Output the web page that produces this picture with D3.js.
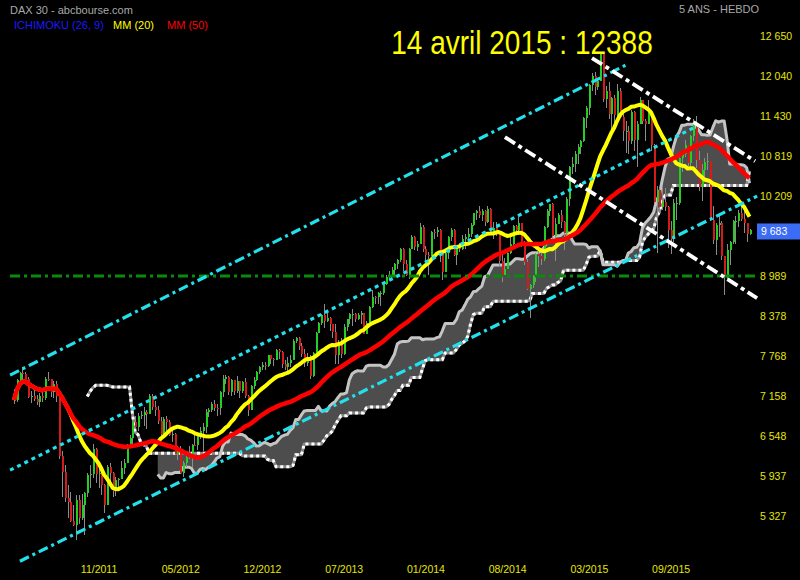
<!DOCTYPE html>
<html><head><meta charset="utf-8">
<script src="https://cdn.jsdelivr.net/npm/d3@7"></script>
<style>html,body{margin:0;padding:0;background:#000;} svg{display:block;}</style>
</head><body>
<svg id="c" width="800" height="580"></svg>
<script>
// ---------- DATA (weekly DAX 30, Apr 2011 - Apr 2016) ----------
const firstOpen = 7217;
const closes = [
7095,7403,7514,7492,7418,7147,7164,7109,7069,7164,
7122,7419,7415,7220,7344,7159,6236,5997,5602,5538,
5246,5189,5574,5295,5502,5675,5954,5971,6346,5966,
5986,5800,5493,6080,5986,5702,5878,5898,6057,6143,
6404,6511,6766,6692,6848,6864,6921,6880,7157,6996,
6947,6775,6583,6801,6762,6561,6579,6271,6339,5978,
6130,6229,6263,6416,6410,6557,6630,6690,6919,6944,
7041,6971,6970,7214,7412,7451,7216,7398,7233,7380,
7232,7364,7163,6950,7309,7405,7518,7597,7636,7612,
7776,7715,7702,7857,7833,7652,7593,7661,7708,8004,
8043,7913,7795,7659,7744,7459,7814,8122,8279,8398,
8305,8349,8255,8127,7789,7959,7806,8212,8331,8403,
8410,8338,8391,8417,8103,8276,8510,8675,8661,8725,
8725,8868,8980,9010,9078,9168,9225,9405,9172,9006,
9400,9589,9435,9473,9742,9393,9306,9301,9663,9657,
9692,9351,9056,9342,9588,9695,9315,9409,9402,9556,
9581,9630,9768,9943,9987,9912,9987,9815,10009,9666,
9720,9644,9210,9009,9092,9339,9470,9747,9691,9799,
9490,9195,8788,8850,8988,9326,9291,9252,9732,9980,
10087,9594,9787,9922,9805,9648,10167,10649,10694,10846,
10963,11050,11401,11550,11901,12040,11868,11967,12375,11689,
11811,11454,11709,11447,11815,11413,11197,11197,11041,11492,
11058,11315,11673,11347,11308,11490,10985,10125,10298,10038,
10123,10038,9688,9554,10096,10104,10795,10850,10988,10708,
11119,11293,10752,10340,10608,10727,10743,9849,9545,9764,
9798,9286,8967,9388,9513,9824,9831,9950,9851,9794,
9622,9683];
const highs = [
7260,7420,7530,7600,7530,7440,7240,7260,7180,7200,
7250,7440,7520,7400,7380,7380,7190,6320,6100,5800,
5700,5500,5640,5650,5670,5700,5980,6100,6430,6360,
6100,6000,5820,6110,6130,6000,5920,5910,6160,6200,
6430,6560,6780,6850,6900,6930,6990,6940,7190,7190,
7080,7010,6830,6840,6850,6790,6690,6600,6400,6400,
6170,6290,6400,6430,6580,6570,6690,6750,6960,6980,
7060,7100,7030,7230,7480,7480,7470,7420,7400,7460,
7390,7380,7430,7180,7330,7440,7540,7620,7680,7670,
7790,7790,7740,7880,7880,7840,7710,7760,7790,8030,
8060,8060,7960,7870,7820,7780,7830,8130,8290,8410,
8560,8430,8360,8260,8260,8010,8040,8260,8340,8430,
8480,8430,8430,8450,8430,8300,8530,8770,8680,8740,
8760,8880,9010,9060,9130,9190,9250,9410,9420,9230,
9410,9620,9600,9530,9790,9760,9440,9350,9680,9700,
9730,9710,9370,9350,9600,9720,9710,9420,9490,9620,
9630,9720,9790,9950,10000,10050,10010,9990,10050,10030,
9810,9810,9650,9360,9270,9380,9600,9770,9760,9890,
9800,9520,9250,8870,9010,9340,9380,9370,9750,10010,
10090,10100,9880,9950,9990,9820,10200,10660,10810,10900,
11000,11060,11420,11580,11920,12080,12100,12000,12390,12390,
11880,11950,11720,11750,11920,11850,11500,11350,11280,11520,
11500,11350,11720,11680,11380,11670,11510,11000,10360,10340,
10360,10330,10050,9830,10160,10200,10850,10900,11060,10990,
11140,11390,11430,10900,10690,10790,10860,10750,10050,9800,
9930,9830,9300,9470,9520,9840,9900,10000,10060,10000,
9800,9700];
const lows = [
7040,7060,7380,7380,7340,7120,7050,7080,7020,6990,
7060,7100,7380,7150,7130,7060,6200,5610,5540,5300,
5230,5180,4965,5210,5260,5040,5620,5760,5900,5830,
5760,5650,5370,5490,5850,5620,5630,5760,5900,5970,
6130,6400,6400,6650,6620,6800,6700,6660,6880,6950,
6860,6730,6550,6530,6600,6540,6450,6260,6180,5970,
5920,6080,6200,6080,6390,6330,6500,6320,6600,6840,
6920,6930,6860,6870,7140,7340,7180,7160,7170,7210,
7120,7200,7120,6860,6940,7260,7390,7490,7560,7560,
7600,7640,7620,7700,7720,7590,7560,7530,7600,7700,
7960,7860,7750,7600,7620,7420,7440,7810,8120,8240,
8200,8280,8150,8050,7650,7650,7730,7780,8150,8250,
8220,8280,8320,8250,8100,8100,8270,8500,8560,8560,
8530,8700,8850,8940,8980,9010,9090,9200,9070,8990,
8950,9400,9380,9370,9470,9360,9150,9000,9300,9550,
9580,9200,8930,9050,9250,9520,9300,9160,9350,9380,
9400,9550,9580,9750,9840,9870,9830,9750,9790,9640,
9550,9600,9140,8900,9000,9090,9320,9430,9610,9610,
9430,9150,8770,8350,8800,8900,9130,9160,9220,9720,
9900,9540,9220,9780,9720,9380,9600,10060,10540,10580,
10700,10850,11040,11250,11450,11810,11750,11830,11960,11650,
11550,11380,11220,11320,11420,11400,11050,10860,10850,11000,
10890,10650,11300,11300,11050,11300,10900,10100,9340,9950,
9990,9980,9420,9330,9510,9850,10070,10580,10800,10660,
10620,11050,10630,10290,10140,10470,10600,9820,9480,9310,
9580,9230,8700,8940,9150,9480,9480,9730,9830,9650,
9500,9610];
const xTickBars = [30, 59, 88, 117, 146, 175, 204, 233];
const xTickLabels = ["11/2011","05/2012","12/2012","07/2013","01/2014","08/2014","03/2015","09/2015"];
const yTicks = [12650,12040,11430,10819,10209,8989,8378,7768,7158,6548,5937,5327];
const lastValue = 9683;
const titleText = "14 avril 2015 : 12388";
// trend lines: [barStart, valueStart, barEnd, valueEnd]
const cyanUpper  = [-1.4, 7476, 217.9, 12223];
const cyanMiddle = [-1.4, 6026, 242.4, 11276];
const cyanLower  = [2.1, 4637, 263.7, 10208];
const whiteUpper = [205.1, 12314, 263.0, 10742];
const whiteLower = [174.2, 11108, 263.7, 8651];
const supportLevel = 8989;
const maPeriods = [20, 50];
const ichimoku = {tenkan: 9, kijun: 26, spanB: 52, shift: 26};

// ---------- DERIVED ----------
const n = closes.length;
const opens = closes.map((c, i) => i === 0 ? firstOpen : closes[i - 1]);
const bars = closes.map((c, i) => ({
  i, o: opens[i], c,
  h: Math.max(highs[i], opens[i], c),
  l: Math.min(lows[i], opens[i], c)
}));
function ma(p) { // expanding window at the start
  return closes.map((c, i) => {
    const s = Math.max(0, i - p + 1);
    return {i, v: d3.mean(closes.slice(s, i + 1))};
  });
}
function mid(i, p, full) {
  const s = i - p + 1;
  if (full && s < 0) return null;
  const a = Math.max(0, s);
  return (d3.max(bars.slice(a, i + 1), d => d.h) + d3.min(bars.slice(a, i + 1), d => d.l)) / 2;
}
const spanA = [], spanB = [];
for (let i = 0; i < n; i++) {
  const t = i + ichimoku.shift;
  if (t >= n) break;
  const tk = mid(i, ichimoku.tenkan, true), kj = mid(i, ichimoku.kijun, true);
  if (tk !== null && kj !== null) spanA.push({i: t, v: (tk + kj) / 2});
  spanB.push({i: t, v: mid(i, ichimoku.spanB, false)});
}

// ---------- SCALES ----------
const svg = d3.select("#c");
svg.append("rect").attr("width", 800).attr("height", 580).attr("fill", "#000");
const x = d3.scaleLinear().domain([0, n - 1]).range([14, 749.5]);
const y = d3.scaleLinear().domain([5327, 12650]).range([516, 36]);

svg.append("defs").append("clipPath").attr("id", "plot")
  .append("rect").attr("x", 8).attr("y", 16).attr("width", 750).attr("height", 550);
const g = svg.append("g").attr("clip-path", "url(#plot)");

// ---------- ICHIMOKU CLOUD ----------
const bMap = new Map(spanB.map(d => [d.i, d.v]));
const cloud = spanA.filter(d => bMap.has(d.i)).map(d => ({i: d.i, a: d.v, b: bMap.get(d.i)}));
g.append("path").datum(cloud)
  .attr("d", d3.area().x(d => x(d.i)).y0(d => y(d.b)).y1(d => y(d.a)))
  .attr("fill", "#4d4d4d");
const line = d3.line().x(d => x(d.i)).y(d => y(d.v));
g.append("path").datum(spanB).attr("d", line).attr("fill", "none")
  .attr("stroke", "#8a8a8a").attr("stroke-width", 3).attr("stroke-linejoin", "round");
g.append("path").datum(spanB).attr("d", line).attr("fill", "none")
  .attr("stroke", "#ffffff").attr("stroke-width", 3).attr("stroke-dasharray", "3,3");
g.append("path").datum(spanA).attr("d", line).attr("fill", "none")
  .attr("stroke", "#c4c4c4").attr("stroke-width", 3).attr("stroke-linejoin", "round");

// ---------- CANDLES ----------
const cg = g.append("g").attr("shape-rendering", "crispEdges");
cg.selectAll("line.w").data(bars).join("line")
  .attr("x1", d => Math.round(x(d.i)) + 0.5).attr("x2", d => Math.round(x(d.i)) + 0.5)
  .attr("y1", d => y(d.h)).attr("y2", d => y(d.l))
  .attr("stroke", "#8c8c8c").attr("stroke-width", 1);
cg.selectAll("rect.b").data(bars).join("rect")
  .attr("x", d => Math.round(x(d.i)))
  .attr("width", 2)
  .attr("y", d => y(Math.max(d.o, d.c)))
  .attr("height", d => Math.max(1, Math.abs(y(d.o) - y(d.c))))
  .attr("fill", d => d.c >= d.o ? "#22d022" : "#d41a1a");

// ---------- MOVING AVERAGES ----------
g.append("path").datum(ma(maPeriods[0])).attr("d", line).attr("fill", "none")
  .attr("stroke", "#ffff00").attr("stroke-width", 4).attr("stroke-linejoin", "round");
g.append("path").datum(ma(maPeriods[1])).attr("d", line).attr("fill", "none")
  .attr("stroke", "#ff0000").attr("stroke-width", 4.5).attr("stroke-linejoin", "round");

// ---------- TREND LINES ----------
function tl(p, color, dash, w) {
  g.append("line").attr("x1", x(p[0])).attr("y1", y(p[1])).attr("x2", x(p[2])).attr("y2", y(p[3]))
    .attr("stroke", color).attr("stroke-width", w).attr("stroke-dasharray", dash);
}
g.append("line").attr("x1", 10).attr("x2", 757).attr("y1", y(supportLevel)).attr("y2", y(supportLevel))
  .attr("stroke", "#0a8a0a").attr("stroke-width", 3).attr("stroke-dasharray", "10,4,3,4");
tl(cyanUpper, "#22e0ec", "10,4,3,4", 3.2);
tl(cyanMiddle, "#22e0ec", "4,4", 3.2);
tl(cyanLower, "#22e0ec", "10,4,3,4", 3.2);
tl(whiteUpper, "#ffffff", "12,4,4,4", 3.8);
tl(whiteLower, "#ffffff", "12,4,4,4", 3.8);

// ---------- AXES ----------
const fmt = v => d3.format(",")(v).replace(/,/g, " ");
const ya = svg.append("g").attr("transform", "translate(758,0)")
  .call(d3.axisRight(y).tickValues(yTicks).tickFormat(fmt).tickSize(0).tickPadding(2));
ya.select(".domain").remove();
ya.selectAll("text").attr("fill", "#e6e600").style("font", "10.5px 'Liberation Sans', Arial, sans-serif");

const xa = svg.append("g").attr("transform", "translate(0,562)")
  .call(d3.axisBottom(x).tickValues(xTickBars).tickFormat((d, i) => xTickLabels[i]).tickSize(0).tickPadding(4));
xa.select(".domain").remove();
xa.selectAll("text").attr("fill", "#e6e600").style("font", "10.5px 'Liberation Sans', Arial, sans-serif");

// last value box
svg.append("rect").attr("x", 757).attr("y", y(lastValue) - 7).attr("width", 43).attr("height", 16).attr("fill", "#3b6cf5");
svg.append("text").attr("x", 761).attr("y", y(lastValue) + 5).text(fmt(lastValue))
  .attr("fill", "#ffffff").style("font", "10.5px 'Liberation Sans', Arial, sans-serif");

// ---------- HEADER ----------
const hf = "11px 'Liberation Sans', Arial, sans-serif";
svg.append("text").attr("x", 10).attr("y", 14).text("DAX 30 - abcbourse.com").attr("fill", "#a8a8a8").style("font", hf);
svg.append("text").attr("x", 679).attr("y", 13).text("5 ANS - HEBDO").attr("fill", "#a8a8a8").style("font", hf);
svg.append("text").attr("x", 14).attr("y", 29).text("ICHIMOKU (26, 9)").attr("fill", "#1a1aff").style("font", hf);
svg.append("text").attr("x", 113).attr("y", 29).text("MM (20)").attr("fill", "#ffff00").style("font", hf);
svg.append("text").attr("x", 167).attr("y", 29).text("MM (50)").attr("fill", "#ff0000").style("font", hf);
svg.append("text").attr("text-anchor", "middle")
  .attr("transform", "translate(522,54) scale(1,1.18)")
  .text(titleText)
  .attr("fill", "#ffff00").style("font", "28px 'Liberation Sans', Arial, sans-serif");
</script>
</body></html>
